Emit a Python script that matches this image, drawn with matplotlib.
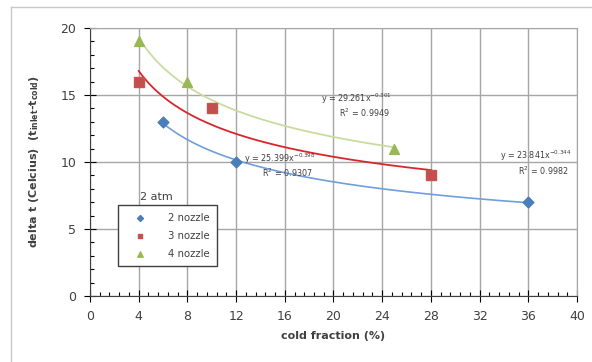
import numpy as np
import matplotlib.pyplot as plt
from matplotlib.lines import Line2D

# cold fraction (%) and delta t readings, 2 atm
x_2noz = [6, 12, 36]
y_2noz = [13, 10, 7]
x_3noz = [4, 10, 28]
y_3noz = [16, 14, 9]
x_4noz = [4, 8, 25]
y_4noz = [19, 16, 11]

eq_labels = {
    '2': ('y = 23.841x$^{-0.344}$', 'R$^2$ = 0.9982'),
    '3': ('y = 25.399x$^{-0.398}$', 'R$^2$ = 0.9307'),
    '4': ('y = 29.261x$^{-0.301}$', 'R$^2$ = 0.9949'),
}


def power_fit(x, y):
    b, ln_a = np.polyfit(np.log(x), np.log(y), 1)
    xs = np.linspace(min(x), max(x), 200)
    return xs, np.exp(ln_a) * xs ** b


fig = plt.figure(figsize=(5.92, 3.62), dpi=100)
ax = fig.add_axes([90 / 592, 66 / 362, 487 / 592, 268 / 362])

# outer chart frame (left and top visible in the screenshot)
fig.add_artist(Line2D([11 / 592, 11 / 592], [0, 355 / 362], color='#c8c8c8', lw=1))
fig.add_artist(Line2D([11 / 592, 1], [355 / 362, 355 / 362], color='#c8c8c8', lw=1))

# trendlines
xs, ys = power_fit(x_2noz, y_2noz)
ax.plot(xs, ys, color='#6f9fdc', lw=1.2, zorder=2)
xs, ys = power_fit(x_3noz, y_3noz)
ax.plot(xs, ys, color='#d9262b', lw=1.3, zorder=2)
xs, ys = power_fit(x_4noz, y_4noz)
ax.plot(xs, ys, color='#c9dca0', lw=1.3, zorder=2)

ax.scatter(x_2noz, y_2noz, marker='D', s=30, color='#4a7ebb', label='2 nozzle', zorder=3)
ax.scatter(x_3noz, y_3noz, marker='s', s=42, color='#c0504d', edgecolor='#d05050', label='3 nozzle', zorder=3)
ax.scatter(x_4noz, y_4noz, marker='^', s=50, color='#98b954', label='4 nozzle', zorder=3)

# trendline equations
eq_pos = {'2': (36.6, 8.9), '3': (15.6, 8.7), '4': (21.9, 13.2)}
for key, (tx, ty) in eq_pos.items():
    ax.text(tx, ty, eq_labels[key][0] + '\n' + '      ' + eq_labels[key][1],
            fontsize=5.8, color='#404040', ha='center', va='bottom', linespacing=1.1)

ax.set_xlim(0, 40)
ax.set_ylim(0, 20)
ax.set_xticks(np.arange(0, 41, 4))
ax.set_yticks(np.arange(0, 21, 5))
ax.set_xticks(np.arange(0, 40.01, 0.8), minor=True)
ax.set_yticks(np.arange(0, 20.01, 1), minor=True)
ax.grid(True, which='major', color='#a6a6a6', lw=1)
ax.set_axisbelow(True)
ax.tick_params(which='major', direction='inout', length=8, width=0.8,
               labelsize=9, labelcolor='#404040', pad=6)
ax.tick_params(which='minor', direction='in', length=3, width=0.8)
for side in ['top', 'right']:
    ax.spines[side].set_color('#a6a6a6')
for side in ['left', 'bottom']:
    ax.spines[side].set_color('#404040')

ax.set_xlabel('cold fraction (%)', fontsize=8, fontweight='bold', color='#404040', labelpad=6)
ax.set_ylabel(r'delta t (Celcius)  (t$_{\mathbf{inlet}}$-t$_{\mathbf{cold}}$)',
              fontsize=8, fontweight='bold', color='#404040', labelpad=14)

leg = ax.legend(loc='upper left', bbox_to_anchor=(28 / 487, 91 / 268), fontsize=7.3,
                frameon=True, fancybox=False, edgecolor='#404040', framealpha=1,
                handletextpad=1.4, borderpad=0.75, labelspacing=0.8, handlelength=2.8,
                markerscale=0.55, borderaxespad=0)
leg.get_frame().set_linewidth(1.0)
for t in leg.get_texts():
    t.set_color('#404040')
ax.text(50 / 487, 99 / 268, '2 atm', transform=ax.transAxes, fontsize=8,
        color='#404040', ha='left', va='center')

fig.savefig('out.png', dpi=100)
